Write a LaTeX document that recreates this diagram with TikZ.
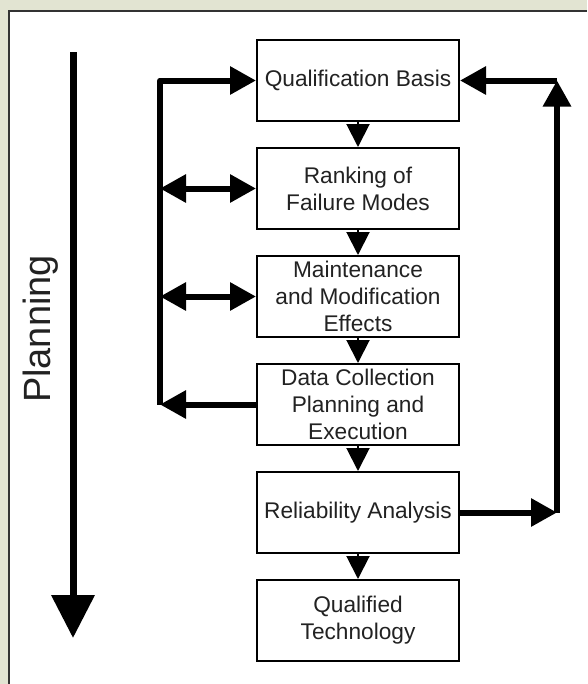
\documentclass[tikz,border=0pt]{standalone}
\usepackage{fontspec}
\setmainfont{Liberation Sans}
\usetikzlibrary{arrows.meta,positioning}
\definecolor{panelbg}{RGB}{226,228,210}
\definecolor{inkgray}{RGB}{34,34,34}
\tikzset{>={Triangle[width=0.54cm,length=0.52cm]}}
\tikzset{
    box/.style={draw=black, line width=0.04cm, fill=white, minimum width=4.04cm,
        minimum height=1.62cm, inner sep=0pt, align=center, text=inkgray,
        font=\fontsize{12.9}{15.4}\selectfont},
    flowarrow/.style={line width=0.04cm, -{Triangle[width=0.46cm,length=0.46cm]}},
    loopline/.style={line width=0.12cm, line join=round}
}

\begin{document}
\begin{tikzpicture}[node distance=0.5cm]
    \useasboundingbox (0,0) rectangle (11.74,-13.68);
    \fill[panelbg] (0,0) rectangle (11.74,-13.68);
    \fill[white] (0.18,-0.22) rectangle (11.74,-13.68);
    \draw[black!80, line width=0.05cm] (0.18,-13.68) -- (0.18,-0.22) -- (11.74,-0.22);

    \node[box] (qb) at (7.16,-1.61) {Qualification Basis};
    \node[box, below=of qb] (rf) {Ranking of\\Failure Modes};
    \node[box, below=of rf] (mm) {Maintenance\\and Modification\\Effects};
    \node[box, below=of mm] (dc) {Data Collection\\Planning and\\Execution};
    \node[box, below=of dc] (ra) {Reliability Analysis};
    \node[box, below=of ra] (qt) {Qualified\\Technology};

    \foreach \a/\b in {qb/rf, rf/mm, mm/dc, dc/ra, ra/qt}
        \draw[flowarrow] (\a.south) -- (\b.north);

    % left loop
    \coordinate (lx) at (3.2,0);
    \draw[loopline, ->] (lx |- dc.west) -- (lx |- qb.west) -- (qb.west);
    \draw[loopline, ->] (dc.west) -- (lx |- dc.west);
    \draw[loopline, <->] (lx |- rf.west) -- (rf.west);
    \draw[loopline, <->] (lx |- mm.west) -- (mm.west);

    % right loop
    \coordinate (rx) at (11.14,0);
    \draw[loopline, ->] (ra.east) -- (rx |- ra.east);
    \draw[loopline, ->] (rx |- ra.east) -- (rx |- qb.east);
    \draw[loopline, ->] (rx |- qb.east) -- (qb.east);

    % planning direction
    \coordinate (ptop) at (1.46,-1.04);
    \coordinate (pbot) at (1.46,-12.76);
    \draw[line width=0.14cm, -{Triangle[width=0.84cm,length=0.86cm]}] (ptop) -- (pbot);
    \node[rotate=90, anchor=base, text=inkgray, font=\fontsize{21.6}{26}\selectfont] (plan) at (1.0,-6.58) {Planning};
\end{tikzpicture}
\end{document}
